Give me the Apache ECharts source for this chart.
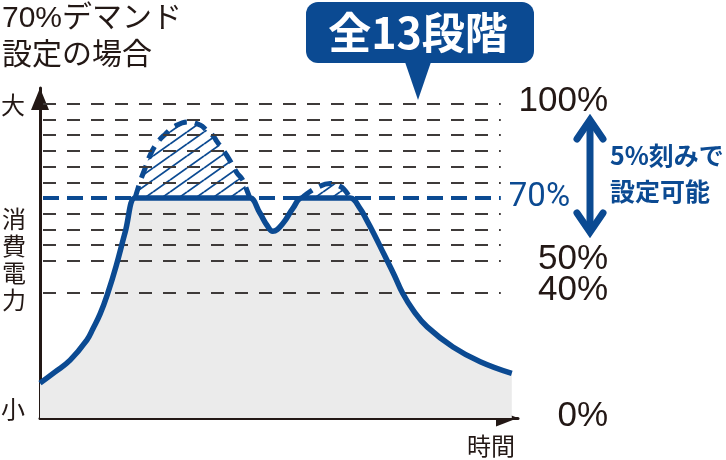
<!DOCTYPE html>
<html><head><meta charset="utf-8">
<script src="https://cdn.jsdelivr.net/npm/echarts@6/dist/echarts.min.js"></script>
<style>html,body{margin:0;padding:0;background:#fff}#c{width:726px;height:460px}</style>
</head><body><div id="c"></div>
<script>
// ---- data (time in arbitrary units 0-100, power in % of contract) ----
const timeMain  = [0, 3.1, 6.3, 9.8, 11.1, 12.6, 14.2, 15.9, 17.8, 19.9, 20.9, 42.9, 43.9, 46.0, 47.5, 48.7, 50.8, 52.9, 54.8, 55.8, 63.9, 64.9, 66.9, 68.4, 69.9, 72.0, 74.1, 75.9, 78.2, 81.0, 86.4, 92.1, 98.7];
const powerMain = [11.1, 14.6, 18.4, 24.8, 28.5, 33.2, 39.8, 48.2, 59.0, 70, 70, 70, 70, 65.2, 61.3, 59.4, 61.9, 66.7, 70, 70, 70, 70, 66.8, 62.8, 58.5, 52, 45.5, 39.6, 34, 29, 22.6, 17.9, 14.2];
const timePeakA  = [19.9, 20.9, 22.0, 23.0, 24.5, 26.2, 28.2, 31.0, 33.5, 34.9, 36.2, 37.0, 39.1, 41.2, 42.3, 43.3, 43.9];
const powerPeakA = [70, 75, 79.5, 83.5, 87.5, 90.3, 92.8, 94.2, 93.2, 91.5, 89.8, 88, 83.5, 78, 76, 72.4, 70];
const timePeakB  = [54.8, 55.9, 57.9, 60.7, 62.8, 63.8, 64.9];
const powerPeakB = [70, 71.4, 73.3, 74.6, 73.7, 72.4, 70];
const gridLevels = [100, 95, 90, 85, 80, 75, 65, 60, 55, 50, 40];
const demandLevel = 70;
const demandLabel = '70%';
const leftTickValues = [100, 0];
const leftTickLabels = ['大', '小'];
const rightTickValues = [100, 50, 40, 0];
const rightTickLabels = ['100%', '50%', '40%', '0%'];
const titleText = '70%デマンド\n設定の場合';
const badgeText = '全13段階';
const noteText = '5%刻みで\n設定可能';
const yAxisName = '消費電力';
const xAxisName = '時間';

// ---- styles ----
const BLUE = '#0b4a92', INK = '#231815', DASH = '#3e3a39', FILL = '#ebebeb';
const LATIN = '"Liberation Sans","Noto Sans CJK JP",sans-serif';
const NARROW = '"Liberation Sans Narrow","Roboto","Liberation Sans",sans-serif';
const CJK = '"Noto Sans CJK JP","Liberation Sans",sans-serif';

const zip = (xs, ys) => xs.map((x, i) => [x, ys[i]]);

function hatch() {
  const w = 17, h = 12;
  const c = document.createElement('canvas'); c.width = w; c.height = h;
  const g = c.getContext('2d'); g.strokeStyle = BLUE; g.lineWidth = 1.8;
  for (const k of [-1, 0, 1]) { g.beginPath(); g.moveTo(0, h * (1 + k)); g.lineTo(w, h * k); g.stroke(); }
  return c;
}
const hatchImg = hatch();
const GRID_END = 96.4;
const SMOOTH = 0.45;

const chart = echarts.init(document.getElementById('c'), null, {renderer: 'canvas'});
chart.setOption({
  animation: false,
  title: {text: titleText, left: 2, top: 0, padding: 0,
    textStyle: {fontSize: 30, fontWeight: 'normal', color: INK, lineHeight: 37, fontFamily: LATIN}},
  grid: {left: 40, right: 208, top: 88, bottom: 42, containLabel: false, outerBoundsMode: 'none'},
  xAxis: {type: 'value', min: 0, max: 100,
    axisLine: {onZero: false, lineStyle: {color: INK, width: 3}, symbol: ['none', 'triangle'], symbolSize: [17, 22], symbolOffset: [0, -11]},
    axisTick: {show: false}, axisLabel: {show: false}, splitLine: {show: false},
    name: xAxisName, nameLocation: 'end', nameGap: -3,
    nameTextStyle: {fontSize: 24, color: INK, fontFamily: CJK, align: 'right', verticalAlign: 'top', padding: [16, 0, 0, 0]}},
  yAxis: [{type: 'value', position: 'left', min: 0, max: 105, interval: 5,
    axisLine: {show: true, onZero: false, lineStyle: {color: INK, width: 3}, symbol: ['none', 'triangle'], symbolSize: [18, 22], symbolOffset: [0, -11]},
    axisTick: {show: false}, splitLine: {show: false},
    axisLabel: {margin: 15, fontSize: 24, color: INK, fontFamily: CJK,
      formatter: v => { const i = leftTickValues.indexOf(v); return i < 0 ? '' : '{' + (v === 0 ? 'lo' : 'hi') + '|' + leftTickLabels[i] + '}'; },
      rich: {hi: {fontSize: 24, fontFamily: CJK, color: INK, padding: [2, 0, 0, 0]}, lo: {fontSize: 24, fontFamily: CJK, color: INK, padding: [0, 0, 18, 0]}}}},
   {type: 'value', position: 'right', min: 0, max: 105, interval: 5,
    axisLine: {show: false}, axisTick: {show: false}, splitLine: {show: false},
    axisLabel: {margin: 90, align: 'right', fontSize: 35, color: INK, fontFamily: LATIN,
      formatter: v => { const i = rightTickValues.indexOf(v); return i < 0 ? '' : '{u|' + rightTickLabels[i] + '}'; },
      rich: {u: {fontSize: 35, color: INK, fontFamily: LATIN, padding: [0, 0, 4, 0]}}}}],
  series: [
    {type: 'line', name: 'fill', data: zip(timeMain, powerMain), smooth: SMOOTH, symbol: 'none', z: 1,
      lineStyle: {width: 0, opacity: 0}, areaStyle: {color: FILL, opacity: 1}},
    {type: 'line', name: 'grid', data: [], z: 2,
      markLine: {silent: true, symbol: ['none', 'none'], label: {show: false},
        lineStyle: {color: DASH, width: 1.8, type: [13, 11], dashOffset: 21},
        data: gridLevels.map(v => [{coord: [0, v]}, {coord: [GRID_END, v]}])}},
    {type: 'line', name: 'demand', data: [], z: 3,
      markLine: {silent: true, symbol: ['none', 'none'],
        label: {show: true, position: 'end', distance: 8, formatter: demandLabel, color: BLUE, fontSize: 33, fontFamily: NARROW},
        lineStyle: {color: BLUE, width: 4, type: [16, 8], dashOffset: 21},
        data: [[{coord: [0, demandLevel]}, {coord: [GRID_END, demandLevel]}]]}},
    {type: 'line', name: 'peakA', data: zip(timePeakA, powerPeakA), smooth: SMOOTH, symbol: 'none', z: 4,
      lineStyle: {color: BLUE, width: 5, type: [13, 8]},
      areaStyle: {color: {image: hatchImg, repeat: 'repeat'}, opacity: 1, origin: demandLevel}},
    {type: 'line', name: 'peakB', data: zip(timePeakB, powerPeakB), smooth: SMOOTH, symbol: 'none', z: 4,
      lineStyle: {color: BLUE, width: 5, type: [13, 8]},
      areaStyle: {color: {image: hatchImg, repeat: 'repeat'}, opacity: 1, origin: demandLevel}},
    {type: 'line', name: 'power', data: zip(timeMain, powerMain), smooth: SMOOTH, symbol: 'none', z: 5,
      lineStyle: {color: BLUE, width: 5.5}}
  ],
  graphic: [
    {type: 'text', x: 14, y: 259, z: 11, style: {text: yAxisName.split('').join('\n'), fill: INK, font: '24px ' + CJK, lineHeight: 27, align: 'center', verticalAlign: 'middle'}},
    {type: 'rect', shape: {x: 306, y: 2, width: 228, height: 61, r: 12}, style: {fill: BLUE}, z: 10},
    {type: 'polygon', shape: {points: [[405, 62], [431, 62], [418, 100]]}, style: {fill: BLUE}, z: 10},
    {type: 'text', x: 418, y: 33, z: 11, style: {text: badgeText, fill: '#fff', font: 'bold 43px ' + CJK, align: 'center', verticalAlign: 'middle'}},
    {type: 'line', shape: {x1: 590, y1: 122, x2: 590, y2: 230}, style: {stroke: BLUE, lineWidth: 7}, z: 10},
    {type: 'polyline', shape: {points: [[577, 139], [590, 120], [603, 139]]}, style: {stroke: BLUE, lineWidth: 7, lineCap: 'round', lineJoin: 'miter', fill: null}, z: 10},
    {type: 'polyline', shape: {points: [[577, 213], [590, 232], [603, 213]]}, style: {stroke: BLUE, lineWidth: 7, lineCap: 'round', lineJoin: 'miter', fill: null}, z: 10},
    {type: 'text', x: 610, y: 173, z: 11, style: {text: noteText, fill: BLUE, font: 'bold 25px ' + CJK, lineHeight: 36, align: 'left', verticalAlign: 'middle'}}
  ]
});
</script></body></html>
